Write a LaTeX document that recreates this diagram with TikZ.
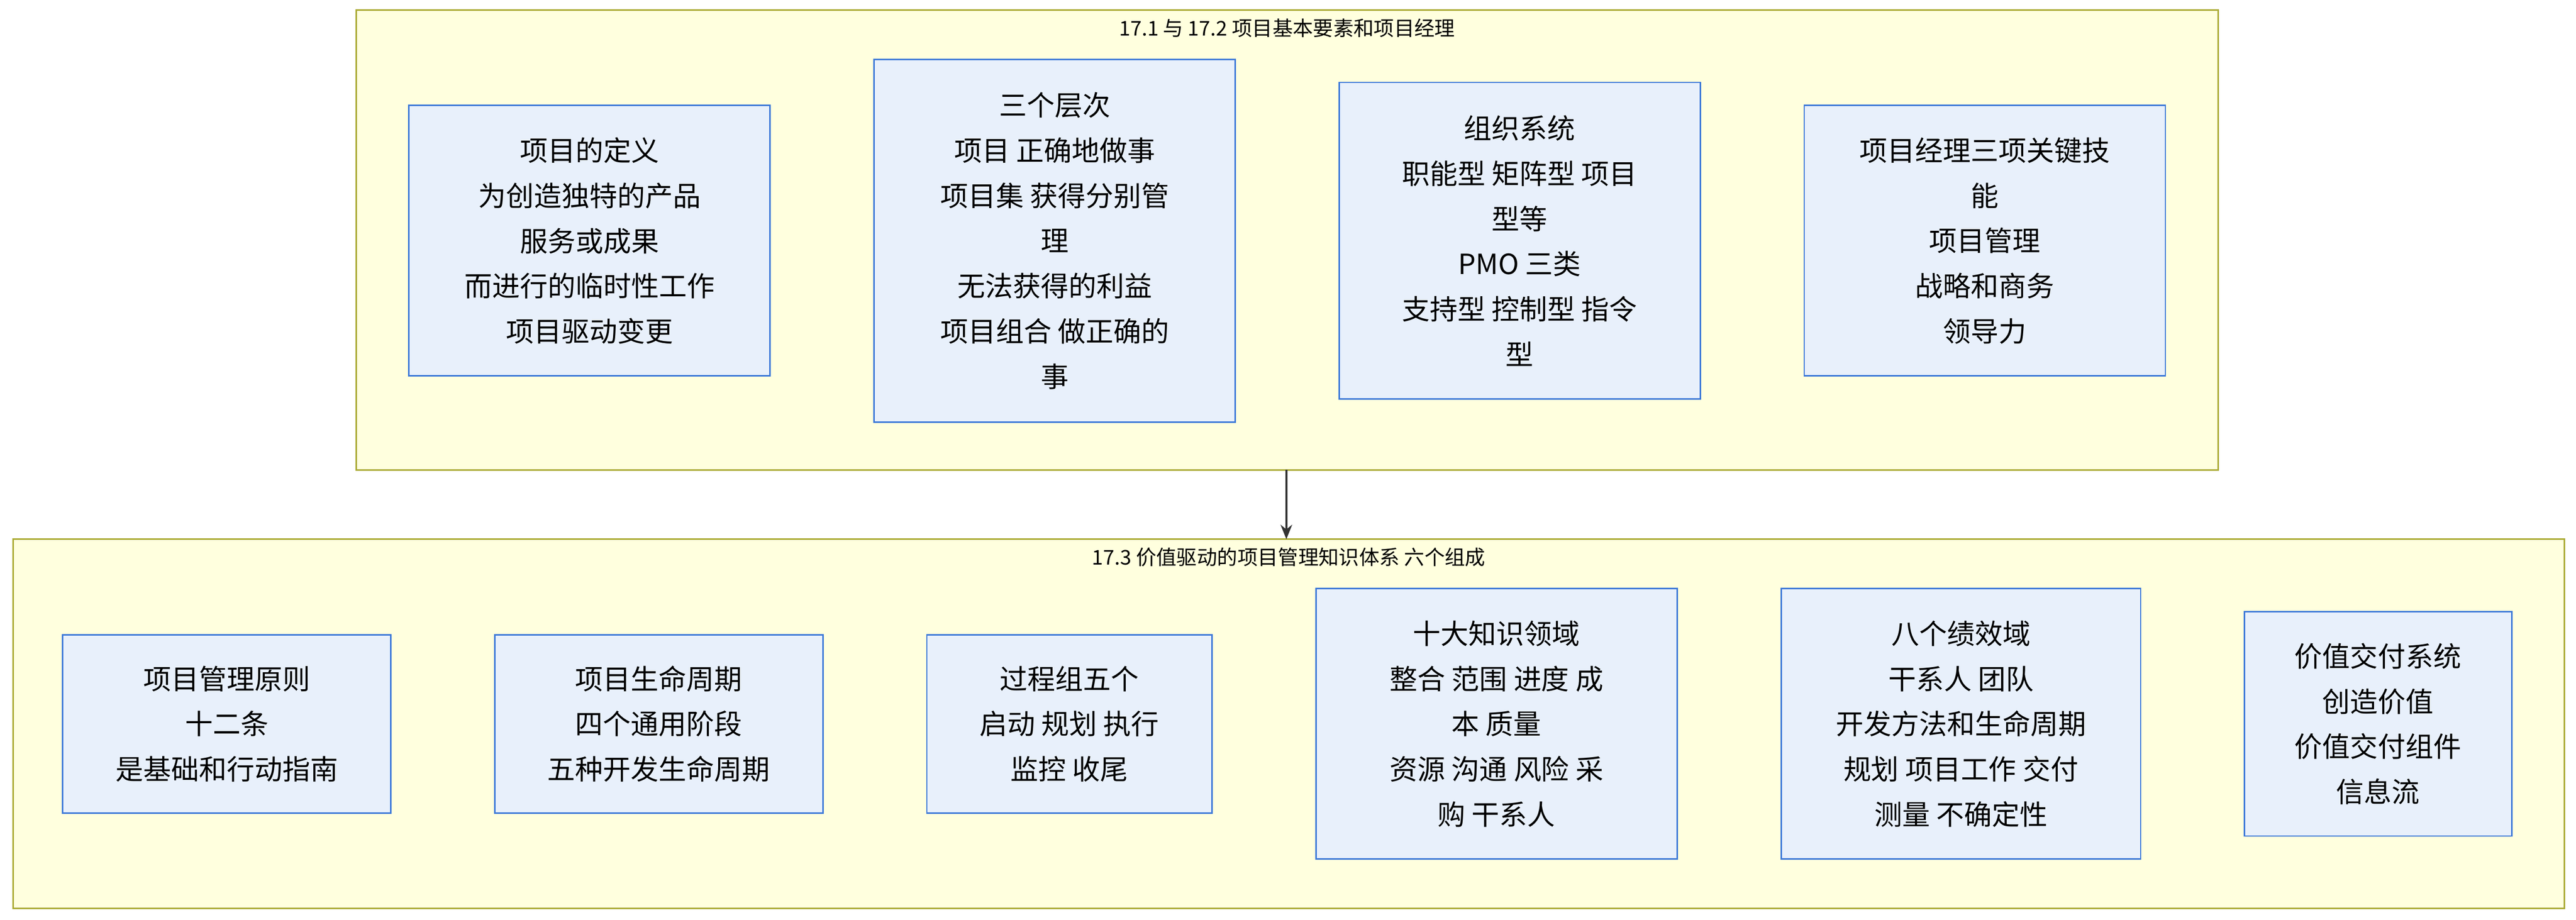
\documentclass[tikz,border=0pt]{standalone}
\usepackage{fontspec}
\setmainfont{Noto Sans CJK SC}
\usetikzlibrary{arrows.meta}
\definecolor{clfill}{HTML}{FFFFDE}
\definecolor{cldraw}{HTML}{AAAA33}
\definecolor{bxfill}{HTML}{E8F0FB}
\definecolor{bxdraw}{HTML}{3C78D8}
\tikzset{
  cluster/.style={draw=cldraw,fill=clfill,line width=0.5pt},
  ctitle/.style={font=\fontsize{7}{9}\selectfont,inner sep=0pt},
  box/.style={draw=bxdraw,fill=bxfill,line width=0.5pt,align=center,inner sep=0pt,
    font=\fontsize{9.6}{15.6}\selectfont},
}
\begin{document}
\begin{tikzpicture}[x=0.02cm,y=-0.02cm]
\useasboundingbox (0,0) rectangle (1562,557.7);
% clusters
\draw [cluster] (216,6) rectangle (1345,285);
\node [ctitle] (t1) at (780.5,17) {17.1 与 17.2 项目基本要素和项目经理};
\draw [cluster] (8,327) rectangle (1555,551);
\node [ctitle] (t2) at (781.5,338) {17.3 价值驱动的项目管理知识体系 六个组成};
% top row
\node [box,minimum width=219*0.02cm,minimum height=164*0.02cm] (def) at (357.5,146)
  {项目的定义\\为创造独特的产品\\服务或成果\\而进行的临时性工作\\项目驱动变更};
\node [box,minimum width=219*0.02cm,minimum height=220*0.02cm] (lvl) at (639.5,146)
  {三个层次\\项目 正确地做事\\项目集 获得分别管\\理\\无法获得的利益\\项目组合 做正确的\\事};
\node [box,minimum width=219*0.02cm,minimum height=192*0.02cm] (org) at (921.5,146)
  {组织系统\\职能型 矩阵型 项目\\型等\\PMO 三类\\支持型 控制型 指令\\型};
\node [box,minimum width=219*0.02cm,minimum height=164*0.02cm] (pm) at (1203.5,146)
  {项目经理三项关键技\\能\\项目管理\\战略和商务\\领导力};
% bottom row
\node [box,minimum width=199*0.02cm,minimum height=108*0.02cm] (pri) at (137.5,439)
  {项目管理原则\\十二条\\是基础和行动指南};
\node [box,minimum width=199*0.02cm,minimum height=108*0.02cm] (life) at (399.5,439)
  {项目生命周期\\四个通用阶段\\五种开发生命周期};
\node [box,minimum width=173*0.02cm,minimum height=108*0.02cm] (proc) at (648.5,439)
  {过程组五个\\启动 规划 执行\\监控 收尾};
\node [box,minimum width=219*0.02cm,minimum height=164*0.02cm] (ka) at (907.5,439)
  {十大知识领域\\整合 范围 进度 成\\本 质量\\资源 沟通 风险 采\\购 干系人};
\node [box,minimum width=218*0.02cm,minimum height=164*0.02cm] (perf) at (1189,439)
  {八个绩效域\\干系人 团队\\开发方法和生命周期\\规划 项目工作 交付\\测量 不确定性};
\node [box,minimum width=162*0.02cm,minimum height=136*0.02cm] (val) at (1442,439)
  {价值交付系统\\创造价值\\价值交付组件\\信息流};
% link between clusters
\coordinate (c1) at (780,285);
\coordinate (c2) at (780,327);
\draw [-{Stealth[length=5pt,width=4pt]},line width=0.6pt,draw=black!80] (c1) -- (c2);
\end{tikzpicture}
\end{document}
